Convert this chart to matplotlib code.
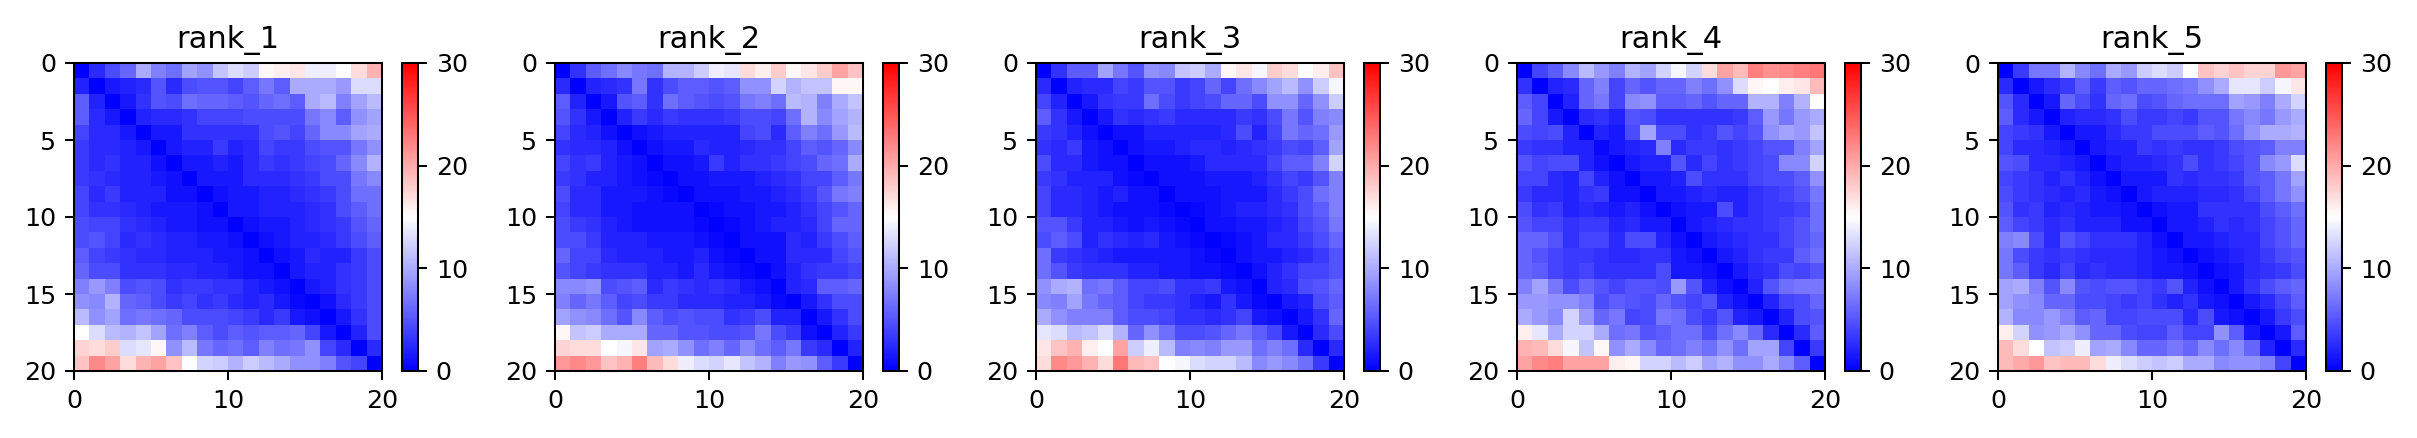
import matplotlib
matplotlib.use("Agg")
import matplotlib.pyplot as plt
import numpy as np

titles = ["rank_1", "rank_2", "rank_3", "rank_4", "rank_5"]

rank_1 = [
    [0, 2.5, 4.5, 6, 10, 7.5, 6.5, 9.5, 8.5, 11.5, 13, 12, 15.5, 16, 16.5, 14, 14, 15, 17, 19.5],
    [2, 0, 1.5, 2, 2.5, 5, 2.5, 4.5, 5, 5, 4, 5.5, 7, 5.5, 10, 10, 10, 9, 13, 13],
    [5.5, 2, 0, 1.5, 3, 5, 4.5, 6.5, 6, 6, 5.5, 5, 6, 6.5, 5.5, 10, 11, 7.5, 9.5, 11],
    [5.5, 2.5, 1.5, 0, 2, 2.5, 2.5, 3, 4, 4, 4, 4.5, 4.5, 4.5, 4.5, 7, 8, 5.5, 8.5, 9.5],
    [4, 2.5, 2.5, 1.5, 0, 1.5, 1.5, 3, 3, 3, 3, 3, 4.5, 5, 4, 6, 8, 8, 9.5, 10],
    [3.5, 2.5, 2.5, 2, 1.5, 0, 1.5, 2, 2, 3.5, 2, 2.5, 4, 3.5, 3.5, 4.5, 5, 5, 7, 8.5],
    [3.5, 2.5, 3, 2, 2, 1, 0, 1.5, 1.5, 2, 1.5, 2.5, 3.5, 3, 3.5, 4, 4.5, 6, 8, 10.5],
    [3.5, 3, 2.5, 2, 2, 1.5, 1, 0, 1.5, 1.5, 1.5, 2.5, 2.5, 2.5, 3, 3.5, 4.5, 4.5, 7, 8],
    [4, 2.5, 3.5, 2, 2, 2, 1, 1, 0, 1, 1.5, 1.5, 2, 2, 2.5, 3, 3.5, 4.5, 6.5, 6.5],
    [4, 3, 3, 2.5, 2, 1.5, 1.5, 1.5, 1, 0, 1.5, 1.5, 2, 2, 2, 2.5, 3, 4.5, 5.5, 6.5],
    [4.5, 4, 4, 3, 2.5, 2, 1.5, 1.5, 1, 1, 0, 1, 1.5, 1.5, 2, 2.5, 3, 3.5, 5, 6],
    [4.5, 5, 4, 2.5, 3, 2.5, 2, 2, 1.5, 1.5, 1, 0, 1, 1.5, 2, 2, 2.5, 3.5, 4.5, 5.5],
    [5.5, 4, 3.5, 3, 2.5, 2.5, 2, 2, 2, 1.5, 1.5, 1, 0, 1, 1.5, 2.5, 2, 2, 3.5, 4.5],
    [6, 4.5, 4.5, 3, 3, 3, 2.5, 2.5, 2, 2, 1.5, 1, 1, 0, 1.5, 2, 2, 3, 3.5, 4.5],
    [7.5, 9, 7.5, 4.5, 5, 4.5, 3, 3.5, 3.5, 3, 3, 2, 1.5, 1, 0, 1.5, 2, 3, 3.5, 4.5],
    [8.5, 8, 10.5, 6, 5.5, 4.5, 3.5, 4, 3, 3.5, 2.5, 2, 2.5, 1.5, 0.5, 0, 1, 2.5, 3.5, 4.5],
    [11, 8.5, 9.5, 6.5, 7, 6.5, 6, 4.5, 4.5, 4.5, 4, 3.5, 2.5, 3.5, 1.5, 1, 0, 1.5, 3, 4.5],
    [15, 13, 11, 10.5, 11.5, 9.5, 6.5, 7.5, 5.5, 4.5, 5.5, 5, 5.5, 5.5, 6, 4, 1.5, 0, 2, 4.5],
    [17.5, 17, 18, 13, 13.5, 15.5, 8.5, 11, 7, 6, 6.5, 5.5, 7.5, 6.5, 7, 8.5, 4, 2.5, 0, 2.5],
    [18.5, 22, 20.5, 17, 19.5, 20.5, 18.5, 15, 12.5, 12, 10.5, 12, 11, 10, 8.5, 8.5, 7.5, 5, 4, 0],
]

rank_2 = [
    [0, 3, 5.5, 6.5, 8, 7, 6.5, 10.5, 10.5, 12, 14, 13.5, 17, 16, 18, 15.5, 16.5, 18, 20.5, 18.5],
    [2.5, 0, 2, 2.5, 3, 7, 3, 4.5, 5.5, 5.5, 5, 5.5, 8.5, 8.5, 12.5, 10.5, 11.5, 11.5, 15.5, 15.5],
    [5.5, 2, 0, 1.5, 5, 5.5, 3, 6.5, 5.5, 5, 4.5, 5, 7, 7.5, 6.5, 11, 10.5, 7.5, 10, 11.5],
    [5, 3, 1.5, 0, 2, 3.5, 2.5, 3.5, 3, 3, 3, 3.5, 4.5, 4.5, 4, 6.5, 10.5, 8, 9.5, 10.5],
    [4, 2.5, 2, 1, 0, 1, 1.5, 2, 2, 2, 2, 2, 4, 4.5, 2.5, 5.5, 7.5, 6.5, 9, 11],
    [3, 2.5, 2.5, 2, 1, 0, 1, 1.5, 1.5, 2.5, 2, 2, 2.5, 3, 3, 4, 5.5, 5, 6, 8],
    [4, 3, 3.5, 2, 1.5, 1, 0, 1, 1, 1.5, 3.5, 2, 3, 3, 3.5, 4, 4.5, 6, 6.5, 10],
    [3.5, 3, 2, 2, 1.5, 1, 0.5, 0, 1, 1, 1.5, 1.5, 1.5, 2, 2.5, 3, 4, 4, 5.5, 7],
    [4.5, 2.5, 2.5, 1.5, 1.5, 1.5, 1, 0.5, 0, 1, 1, 1, 1.5, 1.5, 2, 2.5, 3.5, 5, 7, 7.5],
    [4, 2.5, 2.5, 1.5, 1.5, 1, 1, 1, 1, 0, 0.5, 1, 1, 1.5, 1.5, 2, 3, 4, 5, 6],
    [4.5, 3.5, 3, 2, 1.5, 1, 1, 1, 1, 0.5, 0, 0.5, 1, 1.5, 2, 2, 2.5, 4, 6, 6],
    [4.5, 4.5, 3.5, 2, 2, 2, 1.5, 1.5, 1.5, 1, 0.5, 0, 1, 1, 1, 2.5, 2, 3.5, 4.5, 5.5],
    [6, 4, 4, 2.5, 2, 2, 2, 1.5, 1.5, 2, 1, 0.5, 0, 1, 1, 2.5, 2.5, 2.5, 4, 5],
    [5, 4, 3.5, 3, 3, 3, 2, 2, 1.5, 2.5, 1.5, 1, 0.5, 0, 1, 2, 3, 3.5, 3.5, 4],
    [8, 8, 8.5, 4.5, 5, 5.5, 2.5, 3.5, 3, 2.5, 3, 2.5, 1.5, 1, 0, 2, 2.5, 5.5, 5.5, 6],
    [7.5, 6, 7, 5.5, 4, 4.5, 3.5, 3.5, 2.5, 2.5, 2.5, 2, 2, 1.5, 0.5, 0, 1.5, 3, 4.5, 4.5],
    [9.5, 8.5, 8, 6.5, 5, 8, 5.5, 4.5, 5, 4.5, 4.5, 3, 3.5, 4.5, 2, 2, 0, 1.5, 3, 4.5],
    [15.5, 11.5, 12, 10, 10, 10, 6, 6, 5, 5, 4.5, 4.5, 5, 7, 4.5, 3.5, 1, 0, 2, 3.5],
    [17.5, 17, 17, 15, 14.5, 16.5, 9.5, 10, 8.5, 6.5, 7.5, 6, 8, 6.5, 5.5, 7, 3.5, 2.5, 0, 2],
    [21, 22, 21, 18.5, 19.5, 22.5, 19, 17, 14, 13, 12.5, 13.5, 11.5, 10.5, 7.5, 9, 8.5, 5.5, 3.5, 0],
]

rank_3 = [
    [0, 3, 5.5, 5.5, 9.5, 7, 5, 8.5, 8, 11.5, 12, 10, 15.5, 16.5, 14.5, 18, 17, 15, 16, 18.5],
    [2.5, 0, 2, 2.5, 2.5, 4, 3.5, 5, 5, 3.5, 4, 6, 4, 6.5, 8, 9.5, 11, 8.5, 12, 14.5],
    [4, 2, 0, 1.5, 3, 3.5, 3.5, 6.5, 4.5, 3.5, 4, 4.5, 6, 6, 4.5, 8.5, 8.5, 6, 8.5, 12],
    [5.5, 3, 1.5, 0, 1.5, 3, 2.5, 3, 3.5, 2.5, 2.5, 2.5, 2.5, 3.5, 3, 4.5, 7, 5, 7.5, 8],
    [3.5, 3, 2, 1, 0, 1, 1, 2, 2, 2, 2, 2, 2.5, 4.5, 2, 4, 7, 6, 6.5, 9],
    [3, 2.5, 3.5, 1.5, 1, 0, 1, 1.5, 1.5, 2, 2.5, 2.5, 2, 2.5, 3, 3.5, 4.5, 4, 5.5, 9.5],
    [4.5, 2.5, 2.5, 1.5, 1, 1, 0, 1, 1, 1, 1.5, 2.5, 2.5, 2.5, 2.5, 4, 5.5, 5.5, 7.5, 12.5],
    [3.5, 3, 2, 2, 2, 1, 0.5, 0, 1, 1, 1, 1.5, 1.5, 1.5, 2, 3, 4, 3.5, 5, 7.5],
    [4, 2.5, 2.5, 2, 1.5, 2, 1, 1, 0, 1, 1, 1, 1.5, 1.5, 1.5, 2.5, 3.5, 4.5, 6.5, 7.5],
    [4, 2.5, 2.5, 2, 1.5, 1, 1, 1, 0.5, 0, 0.5, 1, 1.5, 2, 2, 2.5, 3, 4.5, 5.5, 7.5],
    [5, 5, 3.5, 2, 2, 1.5, 1, 1.5, 1, 0.5, 0, 1, 1, 1.5, 1.5, 2, 2.5, 4, 5, 7],
    [4.5, 5.5, 4.5, 2, 3, 2.5, 2, 2.5, 1.5, 1, 0.5, 0, 0.5, 1, 1.5, 2.5, 2.5, 3.5, 4.5, 6],
    [6.5, 3.5, 3, 2.5, 2, 1.5, 1.5, 1.5, 1.5, 1.5, 1, 0.5, 0, 1, 1.5, 1.5, 2, 2.5, 3.5, 5],
    [6.5, 5, 3.5, 3, 3, 3, 2, 2, 1.5, 1.5, 1, 1, 0.5, 0, 1, 2, 3, 4, 4, 5],
    [8.5, 10, 10.5, 6.5, 7, 5.5, 4, 4, 4.5, 3, 3, 3.5, 1.5, 1, 0, 2, 2.5, 4.5, 5, 6],
    [8, 7.5, 9.5, 7, 6, 5.5, 4, 3.5, 3.5, 3, 2, 1.5, 3, 1.5, 0.5, 0, 1.5, 2, 4.5, 5.5],
    [10, 8.5, 7.5, 7.5, 7.5, 5.5, 4.5, 4.5, 4, 3, 3, 2.5, 3, 4, 1.5, 1, 0, 1.5, 3, 6],
    [13.5, 13, 11, 11.5, 13, 10.5, 6, 8.5, 6.5, 4.5, 4.5, 5, 6, 7, 5.5, 4, 1.5, 0, 2.5, 4.5],
    [16.5, 18.5, 19.5, 16, 15, 20.5, 12, 14, 11, 7.5, 8, 7.5, 9, 9, 6.5, 7.5, 6.5, 2.5, 0, 2.5],
    [17, 22, 21, 19.5, 17, 23, 19, 18.5, 15, 14.5, 13, 12.5, 12.5, 11, 8, 9, 8, 6.5, 3.5, 0],
]

rank_4 = [
    [0, 4, 5.5, 8, 11, 9, 7.5, 10.5, 9.5, 12.5, 14.5, 12.5, 17, 20.5, 19, 22.5, 21.5, 22, 22.5, 23],
    [3, 0, 2, 2.5, 6, 7.5, 4, 6, 5, 6, 6, 7.5, 6.5, 8.5, 13, 15.5, 15, 16, 16.5, 19],
    [5.5, 4, 0, 2, 6, 7, 4, 8, 8.5, 5.5, 5.5, 6, 5, 6, 6, 10.5, 10.5, 7.5, 10.5, 15],
    [6, 4, 1.5, 0, 2.5, 3, 2, 5, 4.5, 3, 3, 3, 3, 3, 3.5, 5.5, 9, 7, 9, 10],
    [4.5, 4, 4.5, 2, 0, 2, 1.5, 4.5, 9.5, 4.5, 4.5, 3, 3.5, 5, 4, 5, 8.5, 9.5, 9, 11.5],
    [3.5, 3, 3, 2, 2, 0.5, 1.5, 2, 2.5, 7.5, 2.5, 3.5, 3.5, 3, 3.5, 4, 5, 5, 7.5, 9.5],
    [5, 4, 4.5, 4.5, 2, 1, 0, 1.5, 2, 2, 5, 2.5, 4, 3, 3.5, 4, 4.5, 8, 8, 12.5],
    [4, 4, 2.5, 2, 4, 2, 1, 0, 1.5, 1.5, 2, 4.5, 3, 3, 3, 4, 4.5, 4.5, 5.5, 8.5],
    [3.5, 2.5, 2.5, 2, 3, 3.5, 1, 1, 0, 1.5, 1.5, 2, 2.5, 2, 2, 3, 3.5, 4, 5, 7],
    [4.5, 3, 3.5, 2, 2.5, 2, 1.5, 2, 1, 0, 1, 1.5, 1.5, 4.5, 2, 3, 3.5, 3.5, 4, 6.5],
    [5, 4, 4, 3, 3.5, 3.5, 2, 2.5, 1.5, 1.5, 0, 1.5, 2, 2.5, 3, 3, 3.5, 4, 5, 6.5],
    [6, 6, 5, 3, 4, 4, 2.5, 4.5, 4.5, 2, 1, 0, 1.5, 2, 2.5, 3, 3, 4, 5, 6],
    [6, 5, 4, 3.5, 3.5, 3, 2.5, 2.5, 3, 3, 1.5, 1, 0, 1.5, 2, 3, 3.5, 3.5, 5.5, 6.5],
    [6, 5.5, 4, 3.5, 4, 3, 3, 3, 3, 4.5, 1.5, 1.5, 1, 0, 1.5, 2.5, 3, 4.5, 4, 5],
    [7.5, 9.5, 7, 4.5, 6, 5, 4, 5, 5, 4.5, 9, 5, 2, 1, 0, 2, 5, 6.5, 7, 7],
    [9, 9, 8.5, 8.5, 7.5, 4.5, 5.5, 5, 4.5, 6, 5, 4, 5, 2, 1, 0, 2, 4, 4.5, 6],
    [10, 9, 8, 12.5, 9, 6, 7, 4, 4.5, 7, 6.5, 4.5, 3.5, 5, 2, 1.5, 0, 2, 4.5, 5],
    [16, 13.5, 10, 12.5, 12.5, 10, 6.5, 7, 5, 5.5, 6.5, 6.5, 4.5, 6.5, 8, 6, 2.5, 0, 2.5, 5.5],
    [19.5, 19, 17, 14.5, 11.5, 15.5, 8.5, 10, 8, 6, 6.5, 7.5, 6.5, 8.5, 6.5, 9.5, 9.5, 4, 0, 3.5],
    [20.5, 22, 22.5, 20.5, 20.5, 20.5, 16, 15.5, 12.5, 12.5, 11, 12, 9.5, 10.5, 8.5, 8.5, 10, 8, 5.5, 0],
]

rank_5 = [
    [0, 3.5, 7, 7, 10.5, 8, 6.5, 10, 9, 12, 13, 12, 15, 18.5, 17.5, 18.5, 17.5, 17.5, 21, 20.5],
    [2.5, 0, 1.5, 2.5, 3.5, 5.5, 3.5, 5.5, 5, 6, 6, 6.5, 7, 8.5, 10, 13.5, 13.5, 12, 14.5, 16.5],
    [5, 2.5, 0, 1.5, 6, 4.5, 3, 6, 6.5, 4.5, 5, 6, 6.5, 6.5, 6.5, 9.5, 9, 7.5, 10, 12.5],
    [5.5, 2.5, 1.5, 0, 2, 2.5, 2.5, 3, 4.5, 3.5, 3.5, 4, 3.5, 5, 5, 7, 8, 7, 9, 10],
    [4, 3.5, 3, 1.5, 0, 1.5, 1.5, 2.5, 3.5, 3.5, 4.5, 4.5, 4.5, 5.5, 5, 6.5, 8.5, 10, 10, 10.5],
    [4, 2.5, 2.5, 2, 1.5, 0, 1.5, 2, 2, 3.5, 3, 3.5, 3, 3, 3.5, 4.5, 5, 5.5, 7.5, 7.5],
    [5, 4.5, 2.5, 2.5, 2, 1.5, 0, 1.5, 2, 2, 2.5, 3, 4.5, 3, 3.5, 4, 5, 8, 9, 13],
    [4, 3.5, 3, 2, 3, 2, 1, 0, 1.5, 1.5, 1.5, 3, 2.5, 3, 3, 3.5, 5, 5.5, 7, 9.5],
    [4.5, 3.5, 3, 2.5, 2, 2.5, 1.5, 1, 0, 1.5, 2, 2, 2, 2.5, 2.5, 3, 4, 5.5, 7, 8.5],
    [5, 3, 3.5, 2, 2.5, 2, 1.5, 1.5, 1, 0, 1, 1.5, 1.5, 3, 3, 3, 3, 4.5, 5.5, 6.5],
    [5.5, 4, 3.5, 2.5, 3, 2, 2, 2, 1, 1, 0, 1.5, 1.5, 2, 3, 2.5, 3, 4, 5, 6],
    [7.5, 8, 4.5, 2.5, 5, 4, 3, 3, 3, 2, 1, 0, 1.5, 1.5, 2, 2.5, 2.5, 4, 5, 6],
    [7, 4.5, 3.5, 3, 3.5, 3, 2.5, 2.5, 2.5, 2, 1.5, 1, 0, 1, 1.5, 2, 2.5, 3.5, 4.5, 5],
    [7, 5.5, 3.5, 2.5, 4, 2.5, 3, 2.5, 2.5, 2, 1.5, 1.5, 1, 0, 1, 1.5, 2.5, 3, 3.5, 4.5],
    [9.5, 10, 7.5, 5, 8, 5, 4.5, 5, 5, 4, 3.5, 5, 2, 1, 0, 1.5, 3, 4.5, 5.5, 6],
    [9.5, 8.5, 8, 6, 6, 4.5, 4.5, 4, 3.5, 4, 3, 2, 3, 1.5, 1, 0, 1.5, 2.5, 4, 5.5],
    [10.5, 8, 8, 9, 7.5, 5.5, 6, 4, 4, 4.5, 4.5, 4.5, 2.5, 4.5, 1.5, 1, 0, 1.5, 3.5, 4.5],
    [16, 12.5, 8.5, 9, 10, 8.5, 6, 6, 4.5, 4, 4, 5.5, 4, 4, 8.5, 5.5, 1.5, 0, 1.5, 5.5],
    [19, 17, 15, 11.5, 12, 14, 9.5, 10, 8, 6, 6, 7, 6, 8, 6.5, 8, 6, 2, 0, 2.5],
    [19, 20, 21, 18.5, 19, 19, 17, 14, 13, 12, 11.5, 12, 10, 10, 8, 8.5, 8.5, 7.5, 4, 0],
]

matrices = [rank_1, rank_2, rank_3, rank_4, rank_5]

W, H = 2417, 438
dpi = 183
fig = plt.figure(figsize=(W / dpi, H / dpi), dpi=dpi)

for i in range(5):
    left = 74 + 481 * i
    ax = fig.add_axes([left / W, 67 / H, 308 / W, 308 / H])
    cax = fig.add_axes([(left + 328) / W, 67 / H, 16 / W, 308 / H])
    im = ax.imshow(np.array(matrices[i]), cmap="bwr", vmin=0, vmax=30,
                   extent=(0, 20, 20, 0), interpolation="nearest")
    ax.set_xticks([0, 10, 20])
    ax.set_yticks([0, 5, 10, 15, 20])
    ax.set_title(titles[i])
    cb = fig.colorbar(im, cax=cax)
    cb.set_ticks([0, 10, 20, 30])

fig.savefig("out.png", dpi=dpi)
